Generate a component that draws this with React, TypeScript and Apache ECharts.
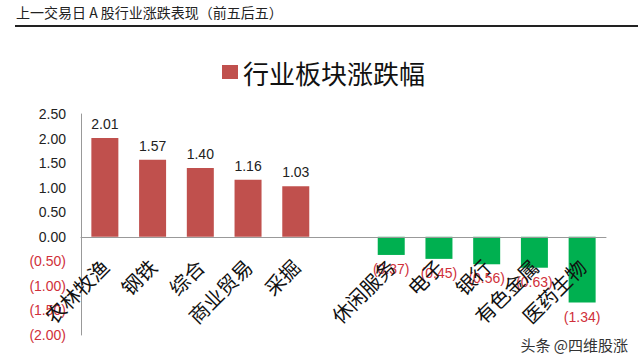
import React, { useEffect, useRef } from "react";
import * as echarts from "echarts";

const categories = ["农林牧渔", "钢铁", "综合", "商业贸易", "采掘", "", "休闲服务", "电子", "银行", "有色金属", "医药生物"];
const values: (number | null)[] = [2.01, 1.57, 1.4, 1.16, 1.03, null, -0.37, -0.45, -0.56, -0.63, -1.34];
const seriesName = "行业板块涨跌幅";
const titleText = "上一交易日 A 股行业涨跌表现（前五后五）";
const watermark = "头条 @四维股涨";
const yMin = -2;
const yMax = 2.5;
const yStep = 0.5;

const RED = "#C0504D";
const GREEN = "#00B050";
const NEG_TEXT = "#D0303A";
const NUM_FONT = "'Liberation Sans', Arial, sans-serif";
const CJK_FONT = "'Noto Sans CJK SC', sans-serif";

const GRID_TOP = 114;
const GRID_BOTTOM = 29;
const CHART_H = 364;

const fmt = (v: number) => (v < 0 ? `(${Math.abs(v).toFixed(2)})` : v.toFixed(2));

export default function App() {
  const ref = useRef<HTMLDivElement>(null);
  useEffect(() => {
    if (!ref.current) return;
    const chart = echarts.init(ref.current, null, { renderer: "svg" });
    const gridH = CHART_H - GRID_TOP - GRID_BOTTOM;
    const zeroOffset = (gridH * (0 - yMin)) / (yMax - yMin);
    chart.setOption({
      animation: false,
      backgroundColor: "#ffffff",
      graphic: [
        {
          type: "text",
          left: 16,
          top: 5,
          style: { text: titleText, fill: "#222", font: `14px ${CJK_FONT}` },
        },
        {
          type: "line",
          shape: { x1: 15, y1: 26, x2: 638, y2: 26 },
          style: { stroke: "#222", lineWidth: 2 },
        },
        {
          type: "text",
          right: 10,
          top: 337,
          style: { text: watermark, fill: "#333", font: `15px ${CJK_FONT}` },
        },
      ],
      legend: {
        data: [{ name: seriesName, itemStyle: { color: RED } }],
        left: 222,
        top: 59,
        padding: 0,
        icon: "rect",
        itemWidth: 16,
        itemHeight: 14,
        textStyle: { fontSize: 26, color: "#111", fontFamily: CJK_FONT },
      },
      grid: { left: 81, right: 32, top: GRID_TOP, bottom: GRID_BOTTOM, containLabel: false, outerBoundsMode: "none" },
      xAxis: {
        type: "category",
        data: categories,
        offset: -zeroOffset,
        z: 5,
        axisLine: { onZero: false, lineStyle: { color: "#999", width: 1 } },
        axisTick: { show: false },
        axisLabel: {
          interval: 0,
          rotate: 45,
          margin: 26,
          fontSize: 20,
          color: "#111",
          fontFamily: CJK_FONT,
        },
      },
      yAxis: {
        type: "value",
        min: yMin,
        max: yMax,
        interval: yStep,
        splitLine: { show: false },
        axisTick: { show: false },
        axisLine: { show: true, lineStyle: { color: "#999", width: 1 } },
        axisLabel: {
          margin: 15,
          fontSize: 14,
          fontFamily: NUM_FONT,
          formatter: (v: number) => (v < 0 ? `{n|${fmt(v)}}` : `{p|${fmt(v)}}`),
          rich: {
            n: { color: NEG_TEXT, fontSize: 14, fontFamily: NUM_FONT },
            p: { color: "#222", fontSize: 14, fontFamily: NUM_FONT },
          },
        },
      },
      series: [
        {
          name: seriesName,
          type: "bar",
          barWidth: 27,
          z: 2,
          data: values.map((v) =>
            v === null
              ? null
              : {
                  value: v,
                  itemStyle: { color: v < 0 ? GREEN : RED },
                  label: {
                    show: true,
                    position: v < 0 ? "bottom" : "top",
                    distance: 7,
                    color: v < 0 ? NEG_TEXT : "#222",
                    fontSize: 14,
                    fontFamily: NUM_FONT,
                    formatter: () => fmt(v),
                  },
                }
          ),
        },
      ],
    });
    return () => chart.dispose();
  }, []);
  return <div ref={ref} style={{ position: "fixed", left: 0, top: 0, width: 638, height: 364 }} />;
}
